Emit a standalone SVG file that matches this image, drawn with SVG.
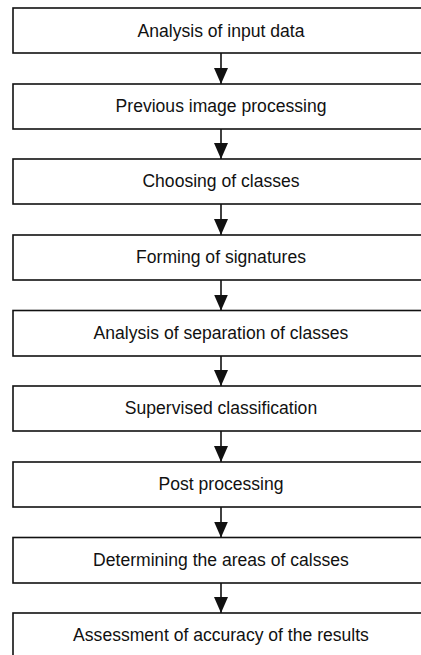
<svg xmlns="http://www.w3.org/2000/svg" width="421" height="655" viewBox="0 0 421 655">
<style>
.box{fill:#fff;stroke:#111;stroke-width:1.6}
.lbl{font-family:"Liberation Sans",Arial,sans-serif;font-size:18.5px;fill:#111;text-anchor:middle}
.con{stroke:#111;stroke-width:1.6;fill:none}
</style>
<defs>
<marker id="ah" markerUnits="userSpaceOnUse" markerWidth="16" markerHeight="14" refX="16" refY="7" orient="auto">
<path d="M0,0 L16,7 L0,14 Z" fill="#111"/>
</marker>
</defs>
<rect width="421" height="655" fill="#fff"/>
<g id="connectors">
<line class="con" x1="221" y1="53" x2="221" y2="84" marker-end="url(#ah)"/>
<line class="con" x1="221" y1="129" x2="221" y2="159" marker-end="url(#ah)"/>
<line class="con" x1="221" y1="204" x2="221" y2="235" marker-end="url(#ah)"/>
<line class="con" x1="221" y1="280" x2="221" y2="310.5" marker-end="url(#ah)"/>
<line class="con" x1="221" y1="356" x2="221" y2="386" marker-end="url(#ah)"/>
<line class="con" x1="221" y1="431" x2="221" y2="462" marker-end="url(#ah)"/>
<line class="con" x1="221" y1="507" x2="221" y2="537.5" marker-end="url(#ah)"/>
<line class="con" x1="221" y1="583" x2="221" y2="613" marker-end="url(#ah)"/>
</g>
<g id="n1"><rect class="box" x="13" y="8" width="416" height="45"/><text class="lbl" transform="matrix(0.95 0 0 1 221 0)" x="0" y="37">Analysis of input data</text></g>
<g id="n2"><rect class="box" x="13" y="84" width="416" height="45"/><text class="lbl" transform="matrix(0.95 0 0 1 221 0)" x="0" y="112.5">Previous image processing</text></g>
<g id="n3"><rect class="box" x="13" y="159" width="416" height="45"/><text class="lbl" transform="matrix(0.95 0 0 1 221 0)" x="0" y="187.5">Choosing of classes</text></g>
<g id="n4"><rect class="box" x="13" y="235" width="416" height="45"/><text class="lbl" transform="matrix(0.95 0 0 1 221 0)" x="0" y="263.5">Forming of signatures</text></g>
<g id="n5"><rect class="box" x="13" y="310.5" width="416" height="45.5"/><text class="lbl" transform="matrix(0.95 0 0 1 221 0)" x="0" y="339">Analysis of separation of classes</text></g>
<g id="n6"><rect class="box" x="13" y="386" width="416" height="45"/><text class="lbl" transform="matrix(0.95 0 0 1 221 0)" x="0" y="414.5">Supervised classification</text></g>
<g id="n7"><rect class="box" x="13" y="462" width="416" height="45"/><text class="lbl" transform="matrix(0.95 0 0 1 221 0)" x="0" y="490.5">Post processing</text></g>
<g id="n8"><rect class="box" x="13" y="537.5" width="416" height="45.5"/><text class="lbl" transform="matrix(0.95 0 0 1 221 0)" x="0" y="566.5">Determining the areas of calsses</text></g>
<g id="n9"><rect class="box" x="13" y="613" width="416" height="45"/><text class="lbl" transform="matrix(0.95 0 0 1 221 0)" x="0" y="641.5">Assessment of accuracy of the results</text></g>
</svg>
